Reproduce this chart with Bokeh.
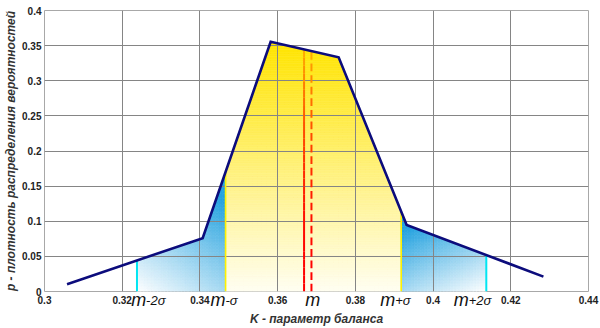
import numpy as np
from bokeh.plotting import figure
from bokeh.models import FixedTicker, ColumnDataSource, Range1d, LinearAxis
from bokeh.embed import file_html
from bokeh.resources import INLINE

# ---------------- data ----------------
k_vals = [0.3058, 0.3407, 0.3582, 0.3757, 0.3932, 0.4284]   # K - balance parameter
p_vals = [0.0103, 0.0760, 0.3555, 0.3333, 0.0946, 0.0212]   # p - probability density

m_solid = 0.3668
m_dashed = 0.3687
m_minus_2s = 0.3238
m_minus_s = 0.3466
m_plus_s = 0.3918
m_plus_2s = 0.4137

x_ticks = [0.30, 0.32, 0.34, 0.36, 0.38, 0.40, 0.42, 0.44]
x_tick_labels = ["0.3", "0.32", "0.34", "0.36", "0.38", "0.4", "0.42", "0.44"]
y_ticks = [0.0, 0.05, 0.10, 0.15, 0.20, 0.25, 0.30, 0.35, 0.40]
y_tick_labels = ["0", "0.05", "0.1", "0.15", "0.2", "0.25", "0.3", "0.35", "0.4"]

sigma_prefix = ["m", "m", "m", "m", "m"]
sigma_suffix = ["-2σ", "-σ", "", "+σ", "+2σ"]
sigma_label_k = [0.3224, 0.3428, 0.3672, 0.3865, 0.4054]   # left edge of each label

x_title = "K - параметр баланса"
y_title = "p - плотность распределения вероятностей"

# ---------------- layout constants ----------------
W, H = 600, 328
BL, BR, BT, BB = 44, 12, 10, 35
X0, X1 = 0.3, 0.44
Y0, Y1 = 0.0, 0.4
px_per_x = (W - BL - BR) / (X1 - X0)

# ---------------- helpers ----------------
def curve(x):
    return np.interp(x, k_vals, p_vals)

def clip_poly(a, b, y0, y1, n):
    xs = set(np.linspace(a, b, n).tolist())
    xs.update(k for k in k_vals if a < k < b)
    for lev in (y0, y1):
        for i in range(len(k_vals) - 1):
            xa, xb, pa, pb = k_vals[i], k_vals[i + 1], p_vals[i], p_vals[i + 1]
            if (pa - lev) * (pb - lev) < 0:
                xc = xa + (lev - pa) * (xb - xa) / (pb - pa)
                if a < xc < b:
                    xs.add(xc)
    xs = np.array(sorted(xs))
    cv = curve(xs)
    keep = cv >= y0 - 1e-12
    xs = xs[keep]
    if len(xs) < 2:
        return None
    tops = np.minimum(cv[keep], y1)
    px = list(xs) + list(xs[::-1])
    py = [y0] * len(xs) + list(tops[::-1])
    return px, py

def hexc(r, g, b):
    return "#%02x%02x%02x" % (int(round(r)), int(round(g)), int(round(b)))

def lerp(c0, c1, t):
    t = min(max(t, 0.0), 1.0)
    return tuple(c0[i] + (c1[i] - c0[i]) * t for i in range(3))

# ---------------- figure ----------------
p = figure(width=W, height=H, output_backend="svg", toolbar_location=None,
           x_range=Range1d(X0, X1), y_range=Range1d(Y0, Y1),
           min_border_left=BL, min_border_right=BR, min_border_top=BT, min_border_bottom=BB)
p.background_fill_color = "white"
p.border_fill_color = "white"
p.outline_line_color = "#a8a8a8"
p.outline_line_width = 1

# gradient fills
cell_xs, cell_ys, cell_c = [], [], []

# yellow (m-s .. m+s), vertical gradient
ymax_y = float(np.max(curve(np.linspace(m_minus_s, m_plus_s, 400))))
band = 0.0025
y0 = 0.0
while y0 < ymax_y:
    y1 = y0 + band
    poly = clip_poly(m_minus_s, m_plus_s, y0, y1, 40)
    if poly:
        t = (y0 + band / 2) / 0.3555
        c = lerp((255, 254, 242), (255, 228, 0), t)
        cell_xs.append(poly[0]); cell_ys.append(poly[1]); cell_c.append(hexc(*c))
    y0 = y1

# blue tails, diagonal gradient
def tail(a, b, near_is_b):
    ncol = 26
    edges = np.linspace(a, b, ncol + 1)
    hmax = float(np.max(curve(np.linspace(a, b, 200))))
    for i in range(ncol):
        xa, xb = edges[i], edges[i + 1]
        top = float(np.max(curve(np.linspace(xa, xb, 8))))
        xc = (xa + xb) / 2
        ux = (xc - a) / (b - a) if near_is_b else (b - xc) / (b - a)
        yy = 0.0
        step = 0.004
        while yy < top:
            poly = clip_poly(xa, xb, yy, yy + step, 4)
            if poly:
                uy = (yy + step / 2) / hmax
                s = 0.4 * ux + 0.8 * uy
                c = lerp((255, 255, 255), (38, 163, 224), s)
                cell_xs.append(poly[0]); cell_ys.append(poly[1]); cell_c.append(hexc(*c))
            yy += step

tail(m_minus_2s, m_minus_s, True)
tail(m_plus_s, m_plus_2s, False)

fill_src = ColumnDataSource(dict(xs=cell_xs, ys=cell_ys, c=cell_c))
fr = p.patches("xs", "ys", source=fill_src, fill_color="c", line_color="c", line_width=0.7)
fr.level = "image"

# grid
p.xgrid.ticker = FixedTicker(ticks=x_ticks)
p.ygrid.ticker = FixedTicker(ticks=y_ticks)
for g in (p.xgrid, p.ygrid):
    g.grid_line_color = "#858585"
    g.grid_line_width = 1

# vertical sigma lines
cyan_x = [m_minus_2s, m_plus_2s]
p.segment(x0=cyan_x, y0=[0, 0], x1=cyan_x, y1=list(curve(cyan_x)), line_color="#00e6f2", line_width=2)
yel_x = [m_minus_s, m_plus_s]
p.segment(x0=yel_x, y0=[0, 0], x1=yel_x, y1=list(curve(yel_x)), line_color="#fff200", line_width=1.6)

def red_color(y, ytop):
    t = y / ytop
    return hexc(255, 175 * t * t, 0)

# solid m line (gradient red -> orange)
ytop_s = float(curve(m_solid))
nseg = 30
ys_edges = np.linspace(0, ytop_s, nseg + 1)
p.segment(x0=[m_solid] * nseg, y0=list(ys_edges[:-1]), x1=[m_solid] * nseg, y1=list(ys_edges[1:]),
          line_color=[red_color((ys_edges[i] + ys_edges[i + 1]) / 2, ytop_s) for i in range(nseg)],
          line_width=2)

# dashed m line
ytop_d = float(curve(m_dashed))
d0 = np.arange(0, ytop_d, 0.0165)
d1 = np.minimum(d0 + 0.0110, ytop_d)
p.segment(x0=[m_dashed] * len(d0), y0=list(d0), x1=[m_dashed] * len(d0), y1=list(d1),
          line_color=[red_color((a + b) / 2, ytop_d) for a, b in zip(d0, d1)], line_width=2)

# curve
p.line(k_vals, p_vals, line_color="#0c0c7c", line_width=2.6, line_join="miter")

# axes
p.xaxis.ticker = FixedTicker(ticks=x_ticks)
p.xaxis.major_label_overrides = {t: l for t, l in zip(x_ticks, x_tick_labels)}
p.yaxis.ticker = FixedTicker(ticks=y_ticks)
p.yaxis.major_label_overrides = {t: l for t, l in zip(y_ticks, y_tick_labels)}

def style_axis(ax, size, style, standoff):
    ax.axis_line_color = None
    ax.major_tick_line_color = None
    ax.minor_tick_line_color = None
    ax.major_tick_out = 0
    ax.major_tick_in = 0
    ax.major_label_text_font = "Liberation Sans"
    ax.major_label_text_font_style = style
    ax.major_label_text_font_size = size
    ax.major_label_text_color = "#222222"
    ax.major_label_standoff = standoff

style_axis(p.xaxis[0], "10px", "bold", 4)
style_axis(p.yaxis[0], "10px", "bold", 3)

p.yaxis.axis_label = y_title
p.yaxis.axis_label_text_font = "Liberation Sans"
p.yaxis.axis_label_text_font_style = "bold italic"
p.yaxis.axis_label_text_font_size = "12px"
p.yaxis.axis_label_text_color = "#333333"
p.yaxis.axis_label_standoff = 1

# sigma labels: two extra stacked axes pulled up with negative standoffs
m_w = 14.5       # px width of big italic "m"
suf_w = {"-2σ": 19.5, "-σ": 12.5, "": 0.0, "+σ": 15.5, "+2σ": 23.0}
m_ticks = [k + (m_w / 2) / px_per_x for k in sigma_label_k]
suf_ticks = [k + (m_w + suf_w[s] / 2) / px_per_x for k, s in zip(sigma_label_k, sigma_suffix)]

ax_m = LinearAxis(ticker=FixedTicker(ticks=m_ticks),
                  major_label_overrides={t: s for t, s in zip(m_ticks, sigma_prefix)})
style_axis(ax_m, "18px", "italic", -17)
ax_m.major_label_text_color = "#111111"
p.add_layout(ax_m, "below")

suf_t = [t for t, s in zip(suf_ticks, sigma_suffix) if s]
suf_s = [s for s in sigma_suffix if s]
ax_s = LinearAxis(ticker=FixedTicker(ticks=suf_t),
                  major_label_overrides={t: s for t, s in zip(suf_t, suf_s)})
style_axis(ax_s, "13px", "italic", -20)
ax_s.major_label_text_color = "#111111"
ax_s.axis_label = x_title
ax_s.axis_label_text_font = "Liberation Sans"
ax_s.axis_label_text_font_style = "bold italic"
ax_s.axis_label_text_font_size = "12px"
ax_s.axis_label_text_color = "#333333"
ax_s.axis_label_standoff = 1
p.add_layout(ax_s, "below")

open("out.html", "w").write(file_html(p, INLINE))
